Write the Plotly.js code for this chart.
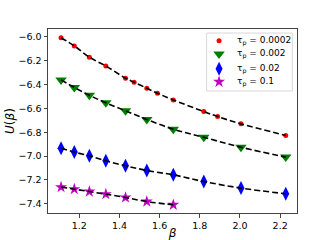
<!DOCTYPE html>
<html>
<head>
<meta charset="utf-8">
<script src="https://cdn.plot.ly/plotly-3.0.1.min.js"></script>
<style>html,body{margin:0;padding:0;background:#fff;}#chart{width:320px;height:240px;}</style>
</head>
<body>
<div id="chart"></div>
<script>
// Data
const betaLong  = [1.109, 1.175, 1.25, 1.332, 1.43, 1.473, 1.536, 1.589, 1.668, 1.82, 1.889, 2.005, 2.228];
const betaMid   = [1.109, 1.175, 1.25, 1.332, 1.43, 1.536, 1.668, 1.82, 2.005, 2.228];
const betaShort = [1.109, 1.175, 1.25, 1.332, 1.43, 1.536, 1.668];

const u0002 = [-6.006, -6.075, -6.17, -6.243, -6.346, -6.38, -6.43, -6.472, -6.528, -6.626, -6.668, -6.729, -6.826];
const u002  = [-6.36, -6.423, -6.489, -6.552, -6.62, -6.692, -6.774, -6.842, -6.925, -7.008];
const u02   = [-6.933, -6.966, -6.997, -7.039, -7.081, -7.12, -7.157, -7.213, -7.268, -7.316];
const u1    = [-7.26, -7.277, -7.297, -7.319, -7.347, -7.381, -7.408];

const seriesNames = ["τ<sub>p</sub> = 0.0002", "τ<sub>p</sub> = 0.002", "τ<sub>p</sub> = 0.02", "τ<sub>p</sub> = 0.1"];
const xTicks = [1.2, 1.4, 1.6, 1.8, 2.0, 2.2];
const yTicks = [-6.0, -6.2, -6.4, -6.6, -6.8, -7.0, -7.2, -7.4];

const xs = [betaLong, betaMid, betaMid, betaShort];
const ys = [u0002, u002, u02, u1];
const colors = ["#ff0000", "#008000", "#0000ff", "#bf00bf"];
const symbols = ["circle", "triangle-down", "diamond-tall", "star"];
const sizes = [5, 10, 10, 9];

// compact legend layout (positions in plot-area fractions)
const legBox = {x0: 0.637, x1: 0.981, y0: 0.663, y1: 0.978};
const legRowY = [0.936, 0.864, 0.784, 0.713];
const legSymX = 0.687, legTextX = 0.752;

const traces = [];
for (let i = 0; i < 4; i++) {
  traces.push({
    x: xs[i], y: ys[i], type: "scatter", mode: "markers", name: seriesNames[i], showlegend: false,
    marker: {color: colors[i], symbol: symbols[i], size: sizes[i], line: {width: 0}}
  });
}
for (let i = 0; i < 4; i++) {
  traces.push({
    x: xs[i], y: ys[i], type: "scatter", mode: "lines", showlegend: false, hoverinfo: "skip",
    line: {color: "#000", width: 1.6, dash: "6px,3px", shape: "spline"}
  });
}
// legend sample markers
for (let i = 0; i < 4; i++) {
  traces.push({
    x: [legSymX], y: [legRowY[i]], xaxis: "x2", yaxis: "y2", type: "scatter", mode: "markers",
    showlegend: false, hoverinfo: "skip",
    marker: {color: colors[i], symbol: symbols[i], size: sizes[i], line: {width: 0}}
  });
}

const axisCommon = {
  showline: true, mirror: true, linecolor: "#444", linewidth: 1,
  ticks: "outside", ticklen: 3.5, tickwidth: 1, tickcolor: "#444",
  showgrid: false, zeroline: false,
  tickfont: {family: "DejaVu Sans", size: 9.5, color: "#000"}
};
const hiddenAxis = {range: [0, 1], visible: false, showgrid: false, zeroline: false, fixedrange: true};

const annotations = seriesNames.map((t, i) => ({
  xref: "x2", yref: "y2", x: legTextX, y: legRowY[i], text: t, showarrow: false,
  xanchor: "left", yanchor: "middle", font: {family: "DejaVu Sans", size: 9, color: "#000"}
}));

const layout = {
  width: 320, height: 240,
  margin: {l: 48, r: 23, t: 29, b: 27},
  paper_bgcolor: "#fff", plot_bgcolor: "#fff",
  font: {family: "DejaVu Sans", color: "#000"},
  xaxis: Object.assign({}, axisCommon, {
    range: [1.044, 2.284], tickvals: xTicks, ticktext: xTicks.map(v => v.toFixed(1)),
    title: {text: "<i>β</i>", font: {family: "DejaVu Sans", size: 12}, standoff: 2}
  }),
  yaxis: Object.assign({}, axisCommon, {
    range: [-7.477, -5.933], tickvals: yTicks, ticktext: yTicks.map(v => "−" + Math.abs(v).toFixed(1)),
    title: {text: "<i>U</i>(<i>β</i>)", font: {family: "DejaVu Sans", size: 12}, standoff: 1}
  }),
  xaxis2: Object.assign({}, hiddenAxis, {overlaying: "x", anchor: "y2"}),
  yaxis2: Object.assign({}, hiddenAxis, {overlaying: "y", anchor: "x2"}),
  shapes: [{
    type: "rect", xref: "x2", yref: "y2", x0: legBox.x0, x1: legBox.x1, y0: legBox.y0, y1: legBox.y1,
    line: {color: "#d8d8d8", width: 1}, fillcolor: "rgba(255,255,255,0.8)", layer: "below"
  }],
  annotations: annotations,
  showlegend: false
};

Plotly.newPlot("chart", traces, layout, {displayModeBar: false, staticPlot: true});
</script>
</body>
</html>
